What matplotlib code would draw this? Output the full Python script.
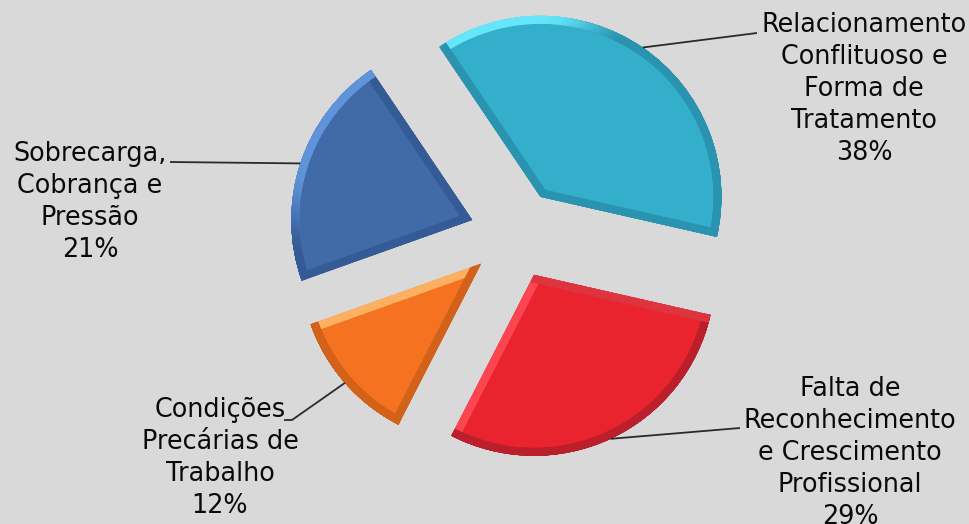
import numpy as np
import matplotlib
matplotlib.use("Agg")
import matplotlib.pyplot as plt
from matplotlib.collections import LineCollection
from matplotlib.colors import to_rgb

# ---- data ----
categories = ["Relacionamento\nConflituoso e\nForma de\nTratamento",
              "Falta de\nReconhecimento\ne Crescimento\nProfissional",
              "Condições\nPrecárias de\nTrabalho",
              "Sobrecarga,\nCobrança e\nPressão"]
values = [38, 29, 12, 21]

# ---- style ----
face_colors = ["#33aecb", "#e9242f", "#f57220", "#406aa8"]
light_colors = ["#66e6fa", "#fb4652", "#fbb062", "#6094da"]
dark_colors = ["#2993b0", "#bb1f2b", "#d2611a", "#345b95"]
bg = "#d9d9d9"

# label layout (pixel coordinates, origin bottom-left)
label_pos = [(864, 435), (850, 71), (220, 66), (90, 322)]
leader_end = [[(757, 491)], [(740, 96)], [(284, 104), (292, 104)], [(170, 362)]]

fig = plt.figure(figsize=(9.7, 5.24), dpi=100, facecolor=bg)
ax = fig.add_axes([0, 0, 1, 1])
ax.set_facecolor(bg)

R = 181
wedges, _ = ax.pie(values, startangle=124, counterclock=False, colors=face_colors,
                   radius=R, center=(515, 290), explode=[45] * len(values),
                   wedgeprops=dict(linewidth=0))
ax.set_xlim(0, 970)
ax.set_ylim(0, 524)
ax.set_aspect("equal")
ax.axis("off")

L = np.deg2rad(128)
Lv = np.array([np.cos(L), np.sin(L)])


def smooth(t):
    t = np.clip(t, 0, 1)
    return t * t * (3 - 2 * t)


for w, lc_, dc_ in zip(wedges, light_colors, dark_colors):
    cx, cy = w.center
    r = w.r
    t1, t2 = w.theta1, w.theta2
    segs, normals = [], []
    apex = np.array([cx, cy])
    p1 = apex + r * np.array([np.cos(np.deg2rad(t1)), np.sin(np.deg2rad(t1))])
    p2 = apex + r * np.array([np.cos(np.deg2rad(t2)), np.sin(np.deg2rad(t2))])
    n = np.deg2rad(t1 - 90)
    for k in range(20):
        a = apex + (p1 - apex) * k / 20
        b = apex + (p1 - apex) * (k + 1) / 20
        segs.append([a, b]); normals.append(n)
    th = np.linspace(t1, t2, 120)
    for a0, a1 in zip(th[:-1], th[1:]):
        a = apex + r * np.array([np.cos(np.deg2rad(a0)), np.sin(np.deg2rad(a0))])
        b = apex + r * np.array([np.cos(np.deg2rad(a1)), np.sin(np.deg2rad(a1))])
        segs.append([a, b]); normals.append(np.deg2rad((a0 + a1) / 2))
    n = np.deg2rad(t2 + 90)
    for k in range(20):
        a = p2 + (apex - p2) * k / 20
        b = p2 + (apex - p2) * (k + 1) / 20
        segs.append([a, b]); normals.append(n)
    dl = np.array(to_rgb(lc_)); dd = np.array(to_rgb(dc_))
    cols = []
    for nn in normals:
        d = np.cos(nn) * Lv[0] + np.sin(nn) * Lv[1]
        t = smooth((d - 0.42) / 0.4)
        cols.append(dd * (1 - t) + dl * t)
    coll = LineCollection(segs, colors=cols, linewidths=11.5, capstyle="round", zorder=3)
    ax.add_collection(coll)
    coll.set_clip_path(w)

# labels and leader lines
for w, cat, v, pos, ends in zip(wedges, categories, values, label_pos, leader_end):
    cx, cy = w.center
    mid = np.deg2rad((w.theta1 + w.theta2) / 2)
    anchor = (cx + w.r * np.cos(mid), cy + w.r * np.sin(mid))
    pts = ends + [anchor]
    xs = [p[0] for p in pts]; ys = [p[1] for p in pts]
    ax.plot(xs, ys, color="#2a2a2a", lw=1.3, zorder=4, solid_capstyle="butt")
    ax.text(pos[0], pos[1], f"{cat}\n{v}%", ha="center", va="center",
            multialignment="center", fontsize=18.4, color="#0a0a0a",
            family="DejaVu Sans", linespacing=1.29, zorder=5)

fig.savefig("out.png", dpi=100, facecolor=bg)
